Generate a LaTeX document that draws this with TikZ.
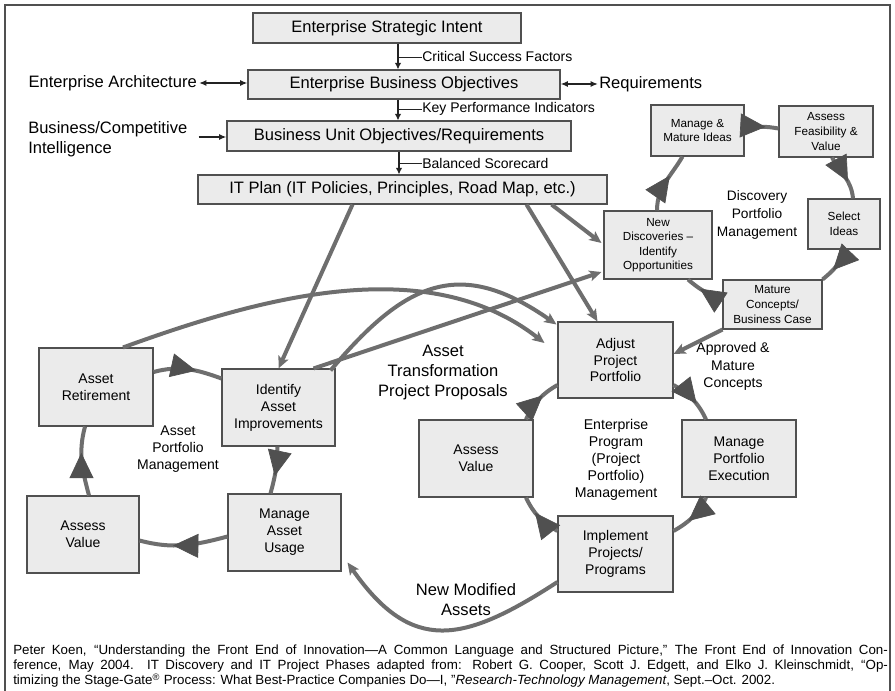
\documentclass[tikz,border=0pt]{standalone}
\usepackage{fontspec}
\setmainfont{Liberation Sans}
\usetikzlibrary{arrows.meta,calc,decorations.markings}

\definecolor{cajagris}{RGB}{235,235,235}
\definecolor{bordegris}{RGB}{80,80,80}
\definecolor{lineagris}{RGB}{110,110,110}
\definecolor{flechagris}{RGB}{80,80,80}
\definecolor{oscuro}{RGB}{35,35,35}

\begin{document}
\begin{tikzpicture}[x=0.75pt,y=0.75pt,
	caja/.style={draw=bordegris,fill=cajagris,line width=0.8pt,align=center,inner sep=0pt},
	tam/.style 2 args={minimum width=#1*0.75pt,minimum height=#2*0.75pt},
	grande/.style={font=\fontsize{12.4}{15}\selectfont},
	media/.style={font=\fontsize{10.5}{12.7}\selectfont},
	chica/.style={font=\fontsize{8.8}{10.9}\selectfont},
	texto/.style={align=center,inner sep=0pt},
	ciclo/.style={draw=lineagris,line width=3pt,postaction={decorate},
		decoration={markings,mark=at position 0.62 with {\arrow{Triangle[length=19pt,width=18pt,line width=0.5pt,color=flechagris,fill=flechagris]}}}},
	flujo/.style={draw=lineagris,line width=3pt,-{Stealth[length=9pt,width=8pt,inset=2pt]}},
	baja/.style={draw=oscuro,line width=1.8pt,-{Latex[length=5pt,width=5pt]}},
	lateral/.style={draw=oscuro,line width=1.1pt,>={Latex[length=5.5pt,width=4.5pt]}},
	guia/.style={draw=oscuro,line width=0.7pt}]
	
	%Recuadro
	\useasboundingbox (0,0) rectangle (895,-691);
	\draw[bordegris,line width=1.2pt] (5,-691) |- (890,-5) -- (890,-691);
	
	%Cajas superiores
	\node[caja,grande,tam={268}{30}] (intencion) at (387,-28) {Enterprise Strategic Intent};
	\node[caja,grande,tam={312}{29}] (ebo) at (404,-84.5) {Enterprise Business Objectives};
	\node[caja,grande,tam={344}{30}] (buo) at (399,-136) {Business Unit Objectives/Requirements};
	\node[caja,grande,tam={409}{29}] (itplan) at (402.5,-189.5) {IT Plan (IT Policies, Principles, Road Map, etc.)};
	
	%Flechas hacia abajo y etiquetas
	\draw[baja] ($(intencion.south)+(11,0)$) coordinate (c1) -- (c1 |- ebo.north);
	\draw[baja] ($(ebo.south)+(-6,0)$) coordinate (c2) -- (c2 |- buo.north);
	\draw[baja] (buo.south) coordinate (c3) -- (c3 |- itplan.north);
	\node[texto,anchor=west,font=\fontsize{10.5}{12}\selectfont] (csf) at (422,-57) {Critical Success Factors};
	\node[texto,anchor=west,font=\fontsize{10.5}{12}\selectfont] (kpi) at (422,-109) {Key Performance Indicators};
	\node[texto,anchor=west,font=\fontsize{10.5}{12}\selectfont] (bsc) at (422,-163) {Balanced Scorecard};
	\draw[guia] (c1 |- csf.west) -- (csf.west);
	\draw[guia] (c2 |- kpi.west) -- (kpi.west);
	\draw[guia] (c3 |- bsc.west) -- (bsc.west);
	
	%Etiquetas laterales
	\node[texto,grande,anchor=east] (arq) at (197,-83) {Enterprise Architecture};
	\node[texto,grande,anchor=west] (req) at (599,-84) {Requirements};
	\node[texto,grande,anchor=west,align=left] (bci) at (28,-139.5) {Business/Competitive\\Intelligence};
	\draw[lateral,<->] ($(arq.east)+(2,0)$) -- (arq.east -| ebo.west);
	\draw[lateral,<->] (req.west -| ebo.east) -- ($(req.west)+(-1,0)$);
	\draw[lateral,->] ($(bci.east)+(11,2.5)$) coordinate (c4) -- (c4 -| buo.west);
	
	%Descubrimiento
	\node[caja,chica,tam={93}{51}] (mmi) at (697.5,-130.5) {Manage \&\\Mature Ideas};
	\node[caja,chica,tam={94}{51}] (afv) at (826,-131.5) {Assess\\Feasibility \&\\Value};
	\node[caja,chica,tam={72}{50}] (sel) at (844,-224) {Select\\Ideas};
	\node[caja,chica,tam={99}{49}] (mcb) at (772.5,-304.5) {Mature\\Concepts/\\Business Case};
	\node[caja,chica,tam={108}{68}] (nd) at (658,-245) {New\\Discoveries --\\Identify\\Opportunities};
	\node[texto,font=\fontsize{10.3}{13.3}\selectfont] (dpm) at (757,-215) {Discovery\\Portfolio\\Management};
	
	%Programa de la empresa
	\node[caja,media,tam={115}{76}] (adj) at (615.5,-360) {Adjust\\Project\\Portfolio};
	\node[caja,media,tam={114}{77}] (mpe) at (739,-458.5) {Manage\\Portfolio\\Execution};
	\node[caja,media,tam={115}{76}] (ipp) at (615.5,-554) {Implement\\Projects/\\Programs};
	\node[caja,media,tam={114}{77}] (avr) at (476,-458.5) {Assess\\Value};
	\node[texto,font=\fontsize{10.6}{12.8}\selectfont] (epm) at (616,-459.5) {Enterprise\\Program\\(Project\\Portfolio)\\Management};
	\node[texto,font=\fontsize{10.5}{13}\selectfont] (amc) at (733,-366.5) {Approved \&\\Mature\\Concepts};
	
	%Activos
	\node[caja,media,tam={114}{78}] (ret) at (96,-387) {Asset\\Retirement};
	\node[caja,media,tam={113}{77}] (iai) at (278.5,-407.5) {Identify\\Asset\\Improvements};
	\node[caja,media,tam={112}{77}] (ava) at (83,-534.5) {Assess\\Value};
	\node[caja,media,tam={113}{77}] (mau) at (284.5,-532.5) {Manage\\Asset\\Usage};
	\node[texto,media] (apm) at (178,-449) {Asset\\Portfolio\\Management};
	\node[texto,grande] (atp) at (443,-373) {Asset\\Transformation\\Project Proposals};
	\node[texto,grande] (nma) at (466,-600) {New Modified\\Assets};
	
	%Ciclo de activos
	\draw[ciclo] ($(ret.east)+(0,15)$) to[out=15,in=160] ($(iai.west)+(0,29)$);
	\draw[ciclo] ($(iai.south)+(-1,0)$) to[out=-90,in=75] ($(mau.north)+(-14,0)$);
	\draw[ciclo] ($(mau.west)+(0,-4)$) to[out=195,in=-15] ($(ava.east)+(0,-6)$);
	\draw[ciclo] ($(ava.north)+(6,0)$) to[out=105,in=-105] ($(ret.south)+(-11,0)$);
	
	%Ciclo de proyectos
	\draw[ciclo] ($(adj.east)+(0,-25)$) to[out=-30,in=115] ($(mpe.north)+(-33,0)$);
	\draw[ciclo] ($(mpe.south)+(-33,0)$) to[out=-115,in=30] ($(ipp.east)+(0,23)$);
	\draw[ciclo] ($(ipp.west)+(0,23)$) to[out=150,in=-65] ($(avr.south)+(50,0)$);
	\draw[ciclo] ($(avr.north)+(50,0)$) to[out=65,in=-150] ($(adj.west)+(0,-25)$);
	
	%Ciclo de descubrimiento
	\draw[ciclo] ($(nd.north)+(-1,0)$) to[out=90,in=-120] ($(mmi.south)+(-15,0)$);
	\draw[ciclo] ($(mmi.east)+(0,2)$) to[out=10,in=170] ($(afv.west)+(0,3)$);
	\draw[ciclo] ($(afv.south)+(6,0)$) to[out=-60,in=95] ($(sel.north)+(9,0)$);
	\draw[ciclo] ($(sel.south)+(-3,0)$) to[out=-85,in=40] (mcb.north east);
	\draw[ciclo] ($(mcb.west)+(0,7)$) to[out=170,in=-40] ($(nd.south)+(30,0)$);
	
	%Flujos largos
	\draw[flujo] ($(itplan.south)+(-50,0)$) -- (iai.north);
	\draw[flujo] ($(itplan.south)+(124,0)$) -- ($(adj.north)+(-18,0)$);
	\draw[flujo] ($(itplan.south)+(149,0)$) -- ($(nd.west)+(-2,2)$);
	\draw[flujo] ($(iai.north)+(35,0)$) -- ($(nd.west)+(-2,-27)$);
	\draw[flujo] ($(iai.north east)+(-5,-2)$) to[out=50,in=145,looseness=1.3] ($(adj.north west)+(-1,-3)$);
	\draw[flujo] ($(ret.north)+(27,0)$) to[out=20,in=142,looseness=0.9] ($(adj.west)+(-13,17)$);
	\draw[flujo] (mcb.south west) -- ($(adj.east)+(0,6)$);
	\draw[flujo] ($(ipp.west)+(0,-28)$) to[out=-147,in=-55,looseness=1.36] ($(mau.east)+(6,-30)$);
	
	%Nota
	\node[anchor=north west,inner sep=0pt,align=left,font=\fontsize{10}{11.25}\selectfont] (nota) at (13,-645)
	{\hbox to 656pt{Peter Koen, “Understanding the Front End of Innovation—A Common Language and Structured Picture,” The Front End of Innovation Con-}\\
	 \hbox to 656pt{ference, May 2004. IT Discovery and IT Project Phases adapted from: Robert G. Cooper, Scott J. Edgett, and Elko J. Kleinschmidt, “Op-}\\
	 timizing the Stage-Gate\textsuperscript{®} Process: What Best-Practice Companies Do—I, ”\textit{Research-Technology Management}, Sept.–Oct. 2002.};
	
\end{tikzpicture}
\end{document}
